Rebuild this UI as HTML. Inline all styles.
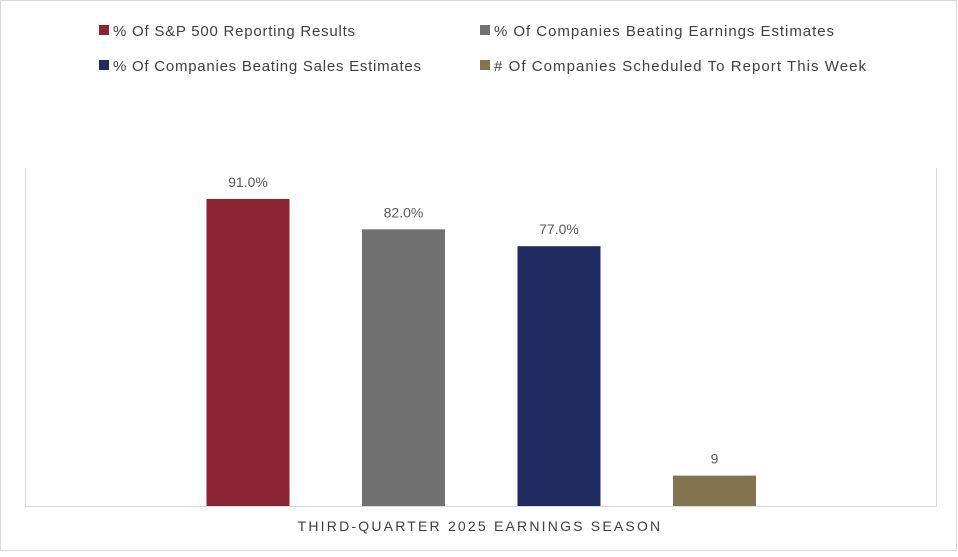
<!DOCTYPE html>
<html><head><meta charset="utf-8"><style>
body{margin:0;background:#fff;font-family:"Liberation Sans",sans-serif;}
#wrap{position:relative;width:958px;height:552px;}
</style></head><body>
<div id="wrap">
<svg id="chart" width="958" height="552">
<rect x="0.5" y="0.5" width="956" height="550" fill="#fff" stroke="#d9d9d9"/>
<g id="legend"></g>
<line x1="25.5" y1="168" x2="25.5" y2="506" stroke="#d9d9d9"/>
<line x1="936.5" y1="168" x2="936.5" y2="506" stroke="#d9d9d9"/>
<line x1="25" y1="506.5" x2="937" y2="506.5" stroke="#d9d9d9"/>
<g id="bars"></g>
<text x="480" y="531" text-anchor="middle" font-size="14" fill="#404040" letter-spacing="2.2">THIRD-QUARTER 2025 EARNINGS SEASON</text>
</svg>
</div>
<script>
const seriesNames = ["% Of S&P 500 Reporting Results","% Of Companies Beating Earnings Estimates","% Of Companies Beating Sales Estimates","# Of Companies Scheduled To Report This Week"];
const seriesValues = [91, 82, 77, 9];
const valueLabels = ["91.0%","82.0%","77.0%","9"];
const colors = ["#8b2332","#707170","#1f2a60","#83744f"];
const legendWidths = [242, 340, 308, 372];
const NS="http://www.w3.org/2000/svg";
const barsG=document.getElementById('bars');
const legendG=document.getElementById('legend');
const yBottom=506, pxPerUnit=3.374;
function y(v){return yBottom - v*pxPerUnit;}
function xc(i){return 248 + i*155.5;}
const bw=83;
seriesValues.forEach((v,i)=>{
  const r=document.createElementNS(NS,'rect');
  r.setAttribute('x',xc(i)-bw/2);r.setAttribute('y',y(v));
  r.setAttribute('width',bw);r.setAttribute('height',yBottom-y(v));
  r.setAttribute('fill',colors[i]);
  
  
  barsG.appendChild(r);
  const t=document.createElementNS(NS,'text');
  t.setAttribute('x',xc(i));t.setAttribute('y',y(v)-12);
  t.setAttribute('text-anchor','middle');t.setAttribute('font-size','14');t.setAttribute('fill','#595959');
  t.textContent=valueLabels[i];
  
  
  barsG.appendChild(t);
});
const lx=[99,480], ly=[31,66];
seriesNames.forEach((n,i)=>{
  const g=document.createElementNS(NS,'g');
  
  
  const x=lx[i%2], yy=ly[Math.floor(i/2)];
  const r=document.createElementNS(NS,'rect');
  r.setAttribute('x',x);r.setAttribute('y',yy-6);r.setAttribute('width',10);r.setAttribute('height',10);r.setAttribute('fill',colors[i]);
  g.appendChild(r);
  const t=document.createElementNS(NS,'text');
  t.setAttribute('x',x+14);t.setAttribute('y',yy+5);t.setAttribute('font-size','15');t.setAttribute('fill','#404040');
  t.setAttribute('textLength',legendWidths[i]);t.setAttribute('lengthAdjust','spacing');
  t.textContent=n;
  g.appendChild(t);
  legendG.appendChild(g);
});
</script>
</body></html>
